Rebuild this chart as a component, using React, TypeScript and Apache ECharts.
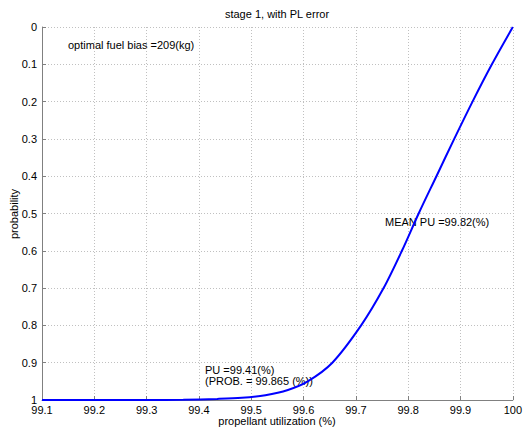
import React, { useEffect, useRef } from "react";
import * as echarts from "echarts";

const puValues = [99.1, 99.3, 99.37, 99.435, 99.482, 99.527, 99.57, 99.608, 99.655, 99.71, 99.753, 99.788, 99.82, 99.854, 99.888, 99.923, 99.96, 100];
const probValues = [1, 1, 0.9993, 0.997, 0.994, 0.987, 0.973, 0.95, 0.9, 0.8, 0.7, 0.6, 0.5, 0.4, 0.3, 0.2, 0.1, 0];

const titleText = "stage 1, with PL error";
const xName = "propellant utilization (%)";
const yName = "probability";
const biasNote = "optimal fuel bias =209(kg)";
const meanNote = "MEAN PU =99.82(%)";
const puNote1 = "PU =99.41(%)";
const puNote2 = "(PROB. = 99.865 (%))";

const FONT = "'Liberation Sans', Arial, Helvetica, sans-serif";

export default function App() {
  const ref = useRef<HTMLDivElement>(null);
  useEffect(() => {
    if (!ref.current) return;
    const chart = echarts.init(ref.current, null, { renderer: "svg" });
    const data = puValues.map((x, i) => [x, probValues[i]]);
    const txt = (text: string, x: number, y: number, extra: any = {}) => ({
      type: "text",
      x,
      y,
      ...extra,
      style: {
        text,
        fill: "#000",
        font: `11px ${FONT}`,
        textVerticalAlign: "middle",
        ...(extra.style || {}),
      },
    });
    chart.setOption({
      animation: false,
      backgroundColor: "#fff",
      grid: { left: 42, right: 10, top: 27, bottom: 32, containLabel: false },
      xAxis: {
        type: "value",
        min: 99.1,
        max: 100,
        interval: 0.1,
        axisLine: { show: true, onZero: false, lineStyle: { color: "#808080", width: 1 } },
        axisTick: { show: true, inside: true, length: 4, lineStyle: { color: "#808080" } },
        axisLabel: {
          color: "#000",
          fontFamily: FONT,
          fontSize: 11,
          margin: 4,
          formatter: (v: number) => String(Number(v.toFixed(1))),
        },
        splitLine: { show: true, lineStyle: { color: "#c0c0c0", type: [1, 2], width: 1 } },
      },
      yAxis: {
        type: "value",
        inverse: true,
        min: 0,
        max: 1,
        interval: 0.1,
        axisLine: { show: true, onZero: false, lineStyle: { color: "#808080", width: 1 } },
        axisTick: { show: true, inside: true, length: 4, lineStyle: { color: "#808080" } },
        axisLabel: {
          color: "#000",
          fontFamily: FONT,
          fontSize: 11,
          margin: 5,
          formatter: (v: number) => String(Number(v.toFixed(1))),
        },
        splitLine: { show: true, lineStyle: { color: "#c0c0c0", type: [1, 2], width: 1 } },
      },
      series: [
        {
          type: "line",
          data,
          showSymbol: false,
          smooth: 0.3,
          lineStyle: { color: "#0000ff", width: 2 },
          clip: true,
        },
      ],
      graphic: [
        txt(titleText, 277, 14, { style: { textAlign: "center" } }),
        txt(biasNote, 68, 45),
        txt(meanNote, 385, 222),
        txt(puNote1, 205, 370),
        txt(puNote2, 205, 381),
        txt(xName, 277, 421, { style: { textAlign: "center" } }),
        txt(yName, 14, 214, { rotation: Math.PI / 2, style: { textAlign: "center" } }),
      ],
    });
    return () => chart.dispose();
  }, []);
  return <div ref={ref} style={{ width: 525, height: 432, position: "absolute", left: 0, top: 0 }} />;
}
